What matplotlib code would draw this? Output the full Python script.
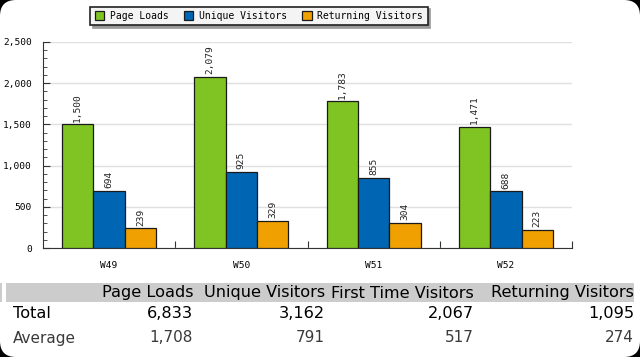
import matplotlib
matplotlib.use("Agg")
import matplotlib.pyplot as plt
import numpy as np
from matplotlib.patches import FancyBboxPatch, Rectangle
from matplotlib.ticker import MultipleLocator, FuncFormatter

weeks = ["W49", "W50", "W51", "W52"]
series_names = ["Page Loads", "Unique Visitors", "Returning Visitors"]
page_loads = [1500, 2079, 1783, 1471]
unique_visitors = [694, 925, 855, 688]
returning_visitors = [239, 329, 304, 223]
colors = ["#80c423", "#0066b3", "#f0a000"]

table_columns = ["Page Loads", "Unique Visitors", "First Time Visitors", "Returning Visitors"]
row_labels = ["Total", "Average"]
totals = ["6,833", "3,162", "2,067", "1,095"]
averages = ["1,708", "791", "517", "274"]

W, H = 640, 357
fig = plt.figure(figsize=(W / 100, H / 100), dpi=100)
fig.patch.set_facecolor("black")
bg = FancyBboxPatch((0, 0), W, H, boxstyle="round,pad=0,rounding_size=16",
                    transform=None, facecolor="white", edgecolor="none", zorder=-10)
fig.patches.append(bg)

mono = "DejaVu Sans Mono"
ax = fig.add_axes([43 / W, 1 - 248 / H, (572 - 43) / W, (248 - 42) / H])
ax.set_facecolor("none")

x = np.arange(len(weeks))
bw = 0.237
all_series = [page_loads, unique_visitors, returning_visitors]
for i, (vals, c, name) in enumerate(zip(all_series, colors, series_names)):
    pos = x + (i - 1) * bw
    ax.bar(pos, vals, width=bw, color=c, edgecolor="#1a1a1a", linewidth=0.9,
           label=name, zorder=3)
    for p, v in zip(pos, vals):
        ax.text(p, v + 30, f"{v:,}", rotation=90, ha="center", va="bottom",
                fontsize=6.8, family=mono, color="#222222")

ax.set_xlim(-0.5, 3.5)
ax.set_ylim(0, 2500)
ax.yaxis.set_major_locator(MultipleLocator(500))
ax.yaxis.set_minor_locator(MultipleLocator(100))
ax.yaxis.set_major_formatter(FuncFormatter(lambda v, p: f"{int(v):,}"))
ax.grid(axis="y", which="major", color="#e0e0e0", linewidth=1, zorder=0)
for s in ["top", "right"]:
    ax.spines[s].set_visible(False)
ax.spines["left"].set_color("#333333")
ax.spines["bottom"].set_color("#333333")
ax.tick_params(axis="y", which="major", direction="in", length=5, labelsize=6.8,
               color="#333333", pad=8)
ax.tick_params(axis="y", which="minor", direction="in", length=3, color="#333333")
for lab in ax.get_yticklabels():
    lab.set_family(mono)

ax.set_xticks([0.5, 1.5, 2.5, 3.5])
ax.set_xticklabels([])
ax.tick_params(axis="x", which="major", direction="in", length=5, color="#333333")
ax.set_xticks(x, minor=True)
ax.set_xticklabels(weeks, minor=True, family=mono, fontsize=6.8)
ax.tick_params(axis="x", which="minor", length=0, pad=9)

leg = fig.legend(loc="center", bbox_to_anchor=(259 / W, 1 - 16 / H), ncol=3,
                 prop={"family": mono, "size": 7}, frameon=True, fancybox=False,
                 shadow={"color": "#999999", "alpha": 1}, edgecolor="#222222",
                 handlelength=1.0, handleheight=1.0, handletextpad=0.6, columnspacing=1.5,
                 borderpad=0.45)
leg.get_frame().set_facecolor("#f4f4f4")
leg.get_frame().set_linewidth(1.2)

fig.patches.append(Rectangle((6, H - 302), 628, 19, transform=None,
                             facecolor="#cccccc", edgecolor="none", zorder=-5))
fig.patches.append(Rectangle((0, H - 302), 2, 19, transform=None,
                             facecolor="#cccccc", edgecolor="none", zorder=-5))
tfont = "DejaVu Sans"
right_edges = [193, 325, 474, 634]
for col, xr in zip(table_columns, right_edges):
    fig.text(xr / W, 1 - 293 / H, col, ha="right", va="center", family=tfont,
             fontsize=11.6, color="black")
fig.text(13 / W, 1 - 314 / H, row_labels[0], ha="left", va="center", family=tfont,
         fontsize=11.6, color="black")
fig.text(13 / W, 1 - 338 / H, row_labels[1], ha="left", va="center", family=tfont,
         fontsize=11, color="#3a3a3a")
for v, xr in zip(totals, right_edges):
    fig.text(xr / W, 1 - 314 / H, v, ha="right", va="center", family=tfont,
             fontsize=11.6, color="black")
for v, xr in zip(averages, right_edges):
    fig.text(xr / W, 1 - 338 / H, v, ha="right", va="center", family=tfont,
             fontsize=11, color="#3a3a3a")

fig.savefig("out.png", dpi=100, facecolor=fig.get_facecolor())
